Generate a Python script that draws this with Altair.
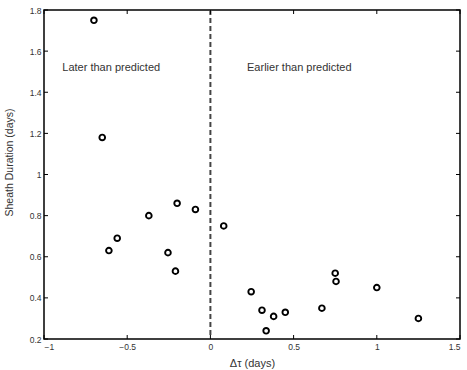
import altair as alt
import pandas as pd

# Data
dtau = [-0.70, -0.65, -0.61, -0.56, -0.37, -0.20, -0.09, -0.255, -0.21,
        0.08, 0.245, 0.31, 0.38, 0.335, 0.45, 0.67, 0.75, 0.755, 1.00, 1.25]
duration = [1.75, 1.18, 0.63, 0.69, 0.80, 0.86, 0.83, 0.62, 0.53,
            0.75, 0.43, 0.34, 0.31, 0.24, 0.33, 0.35, 0.52, 0.48, 0.45, 0.30]

x_ticks = [-1, -0.5, 0, 0.5, 1, 1.5]
y_ticks = [0.2, 0.4, 0.6, 0.8, 1.0, 1.2, 1.4, 1.6, 1.8]

ann_text = ["Later than predicted", "Earlier than predicted"]
ann_x = [-0.89, 0.22]
ann_y = [1.52, 1.52]

W, H = 416, 329
FONT = "Liberation Sans"

df = pd.DataFrame({"dtau": dtau, "dur": duration})
xs = alt.Scale(domain=[-1, 1.5], nice=False, zero=False)
ys = alt.Scale(domain=[0.2, 1.8], nice=False, zero=False)

xlabel_expr = "datum.value == 0 ? '0' : (datum.value < 0 ? '\u2212' + format(-datum.value, '~g') : format(datum.value, '~g'))"

points = alt.Chart(df).mark_point(
    shape="circle", filled=False, color="black", strokeWidth=1.9, size=32, opacity=1
).encode(
    x=alt.X("dtau:Q", scale=xs,
            axis=alt.Axis(title="\u0394\u03c4 (days)", values=x_ticks, tickSize=0, domain=False,
                          grid=False, labelFontSize=8.5, labelColor="#333", labelPadding=3,
                          labelFont=FONT, titleFont=FONT, titleFontSize=11, titleFontWeight="normal",
                          titleColor="#333", titlePadding=7, labelExpr=xlabel_expr)),
    y=alt.Y("dur:Q", scale=ys,
            axis=alt.Axis(title="Sheath Duration (days)", values=y_ticks, tickSize=0, domain=False,
                          grid=False, labelFontSize=8.5, labelColor="#333", labelPadding=3,
                          labelFont=FONT, titleFont=FONT, titleFontSize=10.5, titleFontWeight="normal",
                          titleColor="#333", titlePadding=15, titleY=152,
                          labelExpr="format(datum.value, '~g')")),
)

vline = alt.Chart(pd.DataFrame({"x": [0]})).mark_rule(
    color="#444", strokeWidth=2, strokeDash=[5, 3]
).encode(x=alt.X("x:Q", scale=xs), y=alt.value(0), y2=alt.value(H))

ann = alt.Chart(pd.DataFrame({"t": ann_text, "x": ann_x, "y": ann_y})).mark_text(
    align="left", baseline="middle", fontSize=11, font=FONT, color="#333"
).encode(x=alt.X("x:Q", scale=xs), y=alt.Y("y:Q", scale=ys), text="t:N")

xt = pd.DataFrame({"v": x_ticks})
yt = pd.DataFrame({"v": y_ticks})
tick_style = dict(color="black", strokeWidth=1)
xt_bot = alt.Chart(xt).mark_rule(**tick_style).encode(
    x=alt.X("v:Q", scale=xs), y=alt.value(H), y2=alt.value(H - 4))
xt_top = alt.Chart(xt).mark_rule(**tick_style).encode(
    x=alt.X("v:Q", scale=xs), y=alt.value(0), y2=alt.value(4))
yt_left = alt.Chart(yt).mark_rule(**tick_style).encode(
    y=alt.Y("v:Q", scale=ys), x=alt.value(0), x2=alt.value(4))
yt_right = alt.Chart(yt).mark_rule(**tick_style).encode(
    y=alt.Y("v:Q", scale=ys), x=alt.value(W), x2=alt.value(W - 4))

chart = alt.layer(vline, xt_bot, xt_top, yt_left, yt_right, ann, points).properties(
    width=W, height=H,
    autosize=alt.AutoSizeParams(type="none"),
    padding={"left": 44, "top": 10, "right": 7, "bottom": 31},
    background="white",
).configure_view(stroke="black", strokeWidth=1.5)

chart.save("out.html", embed_options={"renderer": "svg", "actions": False})
